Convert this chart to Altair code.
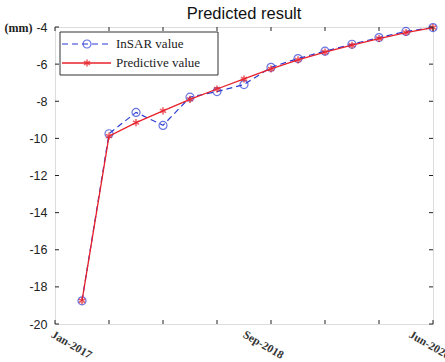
import altair as alt
import pandas as pd

# ---- data ----
idx = list(range(1, 15))
insar = [-18.75, -9.75, -8.6, -9.3, -7.78, -7.48, -7.1, -6.17, -5.7, -5.3, -4.93, -4.57, -4.24, -4.03]
pred = [-18.75, -9.88, -9.15, -8.52, -7.9, -7.34, -6.8, -6.26, -5.77, -5.35, -4.98, -4.62, -4.3, -4.03]
xticks = [0, 2, 4, 6, 8, 10, 12, 14]
yticks = [-20, -18, -16, -14, -12, -10, -8, -6, -4]
xlabel_text = ["Jan-2017", "Sep-2018", "Jun-2020"]
xlabel_pos = [0.0, 7.1, 13.25]

W, H = 378, 297
BLUE = "#2b3bd3"
RED = "#e8202a"
ASTERISK = "M0,-1L0,1M-0.87,-0.5L0.87,0.5M-0.87,0.5L0.87,-0.5"

df = pd.DataFrame({"idx": idx, "insar": insar, "pred": pred})
xs = alt.Scale(domain=[0, 14], nice=False, zero=False)
ys = alt.Scale(domain=[-20, -4], nice=False, zero=False)

yaxis = alt.Axis(
    values=yticks, ticks=False, domain=False, grid=False, labelPadding=8,
    labelOverlap=False, labelExpr="'' + datum.value",
    labelFont="Liberation Sans", labelFontSize=12.5, labelColor="#222",
    title="(mm)", titleAngle=0, titleAlign="right", titleBaseline="middle",
    titleX=-23, titleY=0, titleFont="Liberation Serif", titleFontSize=12,
    titleFontWeight="bold", titleColor="#222")

base = alt.Chart(df)
x_enc = alt.X("idx:Q", scale=xs, axis=None)

insar_line = base.mark_line(color=BLUE, strokeDash=[6, 4], strokeWidth=1.2).encode(
    x=x_enc, y=alt.Y("insar:Q", scale=ys, axis=yaxis))
insar_pts = base.mark_point(shape="circle", color=BLUE, filled=False, size=64, strokeWidth=1.2).encode(
    x=x_enc, y=alt.Y("insar:Q", scale=ys, axis=yaxis))
pred_line = base.mark_line(color=RED, strokeWidth=1.3).encode(
    x=x_enc, y=alt.Y("pred:Q", scale=ys, axis=yaxis))
pred_pts = base.mark_point(shape=ASTERISK, color=RED, filled=False, size=50, strokeWidth=1.6).encode(
    x=x_enc, y=alt.Y("pred:Q", scale=ys, axis=yaxis))

# inward ticks on all four sides
xt = alt.Chart(pd.DataFrame({"t": xticks}))
yt = alt.Chart(pd.DataFrame({"t": yticks}))
tick_style = dict(color="#222", strokeWidth=1)
xt_bot = xt.mark_rule(**tick_style).encode(x=alt.X("t:Q", scale=xs, axis=None), y=alt.value(H), y2=alt.value(H - 4))
xt_top = xt.mark_rule(**tick_style).encode(x=alt.X("t:Q", scale=xs, axis=None), y=alt.value(0), y2=alt.value(4))
yt_left = yt.mark_rule(**tick_style).encode(y=alt.Y("t:Q", scale=ys, axis=yaxis), x=alt.value(0), x2=alt.value(4))
yt_right = yt.mark_rule(**tick_style).encode(y=alt.Y("t:Q", scale=ys, axis=yaxis), x=alt.value(W), x2=alt.value(W - 4))

# x tick labels
xl = alt.Chart(pd.DataFrame({"p": xlabel_pos, "lab": xlabel_text})).mark_text(
    angle=30, align="left", baseline="top", font="Liberation Serif", fontSize=11.5,
    fontWeight="bold", color="#333"
).encode(x=alt.X("p:Q", scale=xs, axis=None), y=alt.value(H + 5), text="lab:N")

# legend
one = alt.Chart(pd.DataFrame({"a": [0]}))
leg_box = one.mark_rect(fill="white", stroke="#333", strokeWidth=1).encode(
    x=alt.value(5), x2=alt.value(163), y=alt.value(5), y2=alt.value(48))
leg_l1 = one.mark_rule(color=BLUE, strokeDash=[6, 4], strokeWidth=1.2).encode(
    x=alt.value(7), x2=alt.value(56), y=alt.value(17))
leg_p1 = one.mark_point(shape="circle", color=BLUE, filled=False, size=64, strokeWidth=1.2).encode(
    x=alt.value(32), y=alt.value(17))
leg_l2 = one.mark_rule(color=RED, strokeWidth=1.3).encode(
    x=alt.value(7), x2=alt.value(56), y=alt.value(36))
leg_p2 = one.mark_point(shape=ASTERISK, color=RED, filled=False, size=50, strokeWidth=1.6).encode(
    x=alt.value(32), y=alt.value(36))
leg_t1 = one.mark_text(align="left", baseline="middle", font="Liberation Serif", fontSize=13,
                       color="#222").encode(x=alt.value(61), y=alt.value(17), text=alt.value("InSAR value"))
leg_t2 = one.mark_text(align="left", baseline="middle", font="Liberation Serif", fontSize=13,
                       color="#222").encode(x=alt.value(61), y=alt.value(36), text=alt.value("Predictive value"))

chart = alt.layer(
    insar_line, insar_pts, pred_line, pred_pts,
    xt_bot, xt_top, yt_left, yt_right, xl,
    leg_box, leg_l1, leg_p1, leg_l2, leg_p2, leg_t1, leg_t2,
).properties(
    width=W, height=H,
    title=alt.TitleParams("Predicted result", font="Liberation Sans", fontSize=16.5,
                          fontWeight="normal", color="#111", offset=6, anchor="middle",
                          frame="group", dy=8),
    autosize=alt.AutoSizeParams(type="none"),
    padding={"left": 55, "top": 27, "right": 12, "bottom": 38},
).configure_view(stroke="#222", strokeWidth=1).configure(background="white")

chart.save("out.html", embed_options={"renderer": "svg", "actions": False})
